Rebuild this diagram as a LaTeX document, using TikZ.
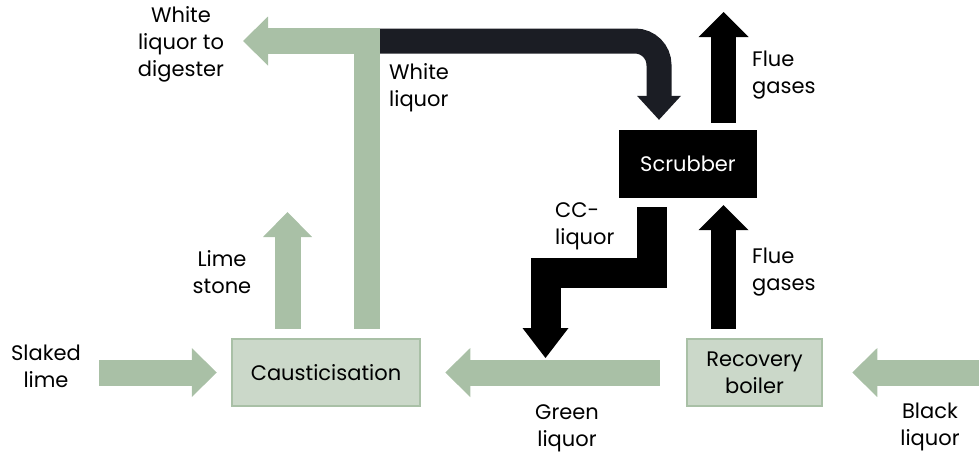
\documentclass[tikz,border=0pt]{standalone}
\usepackage{fontspec}
\setmainfont{Poppins}
\usetikzlibrary{arrows.meta, positioning, calc}
\definecolor{sage}{HTML}{A9C0A6}
\definecolor{sagelight}{HTML}{CBD8C9}
\definecolor{ink}{HTML}{1B1D24}
\tikzstyle{unit} = [rectangle, draw=sage, fill=sagelight, line width=2.5pt]
\tikzstyle{greenflow} = [draw=sage, line width=26pt, line join=miter,
   -{Triangle[width=49pt,length=25pt,line width=0pt]}]
\tikzstyle{blackflow} = [draw=black, line width=25pt, line join=miter,
   -{Triangle[width=50pt,length=25pt,line width=0pt]}]
\tikzstyle{lbl} = [inner sep=0pt]

\begin{document}
\begin{tikzpicture}[
  x=1pt, y=-1pt,
  font=\fontsize{21}{27}\selectfont,
  ]
  \useasboundingbox (0,0) rectangle (979,459);
  \node[unit,minimum width=188pt,minimum height=67pt] (caus) at (326,372.5) {Causticisation};
  \node[unit,minimum width=135pt,minimum height=67pt,align=center] (boiler) at (754.5,372.5) {Recovery\\boiler};
  \node[rectangle,fill=black,text=white,minimum width=138pt,minimum height=68pt] (scrub) at (688,164) {Scrubber};

  \coordinate (slaked) at (99,372.5);
  \coordinate (blk) at (979,372.5);
  \coordinate (lime) at (287.5,212);
  \coordinate (wlturn) at (367,41);
  \coordinate (wltip) at (243,41);
  \coordinate (flue) at (723.5,12);
  \coordinate (ccbend) at (545.5,272.5);
  \coordinate (cctip) at (545.5,358);

  % white liquor to the scrubber
  \draw[blackflow,draw=ink,rounded corners=24pt,shorten >=10pt,
    -{Triangle[width=44pt,length=24pt,line width=0pt]}] (wlturn) -| ([xshift=-29pt]scrub.north);
  \draw[greenflow,shorten <=9pt] (caus.north -| wlturn) -- (wlturn) -- (wltip);
  \draw[greenflow,shorten <=9pt] (caus.north -| lime) -- (lime);
  \draw[greenflow,shorten >=14pt] (slaked) -- (caus.west);
  \draw[greenflow,shorten <=26pt,shorten >=24pt] (boiler.west) -- (caus.east);
  \draw[greenflow,shorten >=29pt] (blk) -- (boiler.east);
  % gases
  \draw[blackflow,shorten <=7pt] (scrub.north -| flue) -- (flue);
  \draw[blackflow,shorten <=9pt,shorten >=7pt] (boiler.north -| flue) -- (scrub.south -| flue);
  \draw[blackflow,line width=30pt,-{Triangle[width=46pt,length=30pt,line width=0pt]},shorten <=9pt]
    ([xshift=-36pt]scrub.south) |- (ccbend) -- (cctip);

  \node[lbl,align=center] (tdig) at (181,44) {White\\liquor to\\digester};
  \node[lbl,align=left,anchor=west] (twl) at (389,88) {White\\liquor};
  \node[lbl,align=left,anchor=west] (tfg1) at (752,75) {Flue\\gases};
  \node[lbl,align=left,anchor=west] (tcc) at (555,226) {CC-\\liquor};
  \node[lbl,align=center] (tls) at (222,272) {Lime\\stone};
  \node[lbl,align=left,anchor=west] (tfg2) at (752,272) {Flue\\gases};
  \node[lbl,align=center] (tsl) at (46,366) {Slaked\\lime};
  \node[lbl,align=center] (tgl) at (567,428) {Green\\liquor};
  \node[lbl,align=center] (tbl) at (930,427) {Black\\liquor};
\end{tikzpicture}
\end{document}
